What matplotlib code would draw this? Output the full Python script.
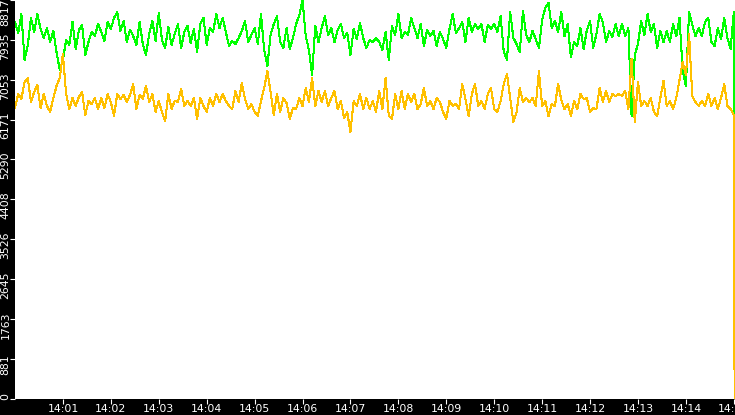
import matplotlib
matplotlib.use("Agg")
import matplotlib.pyplot as plt
import matplotlib.transforms as mtransforms

# seconds after 14:00:00, one sample every 4 s, last one is the drop at the end
times = list(range(0, 901, 4)) + [901]

green = [
    8330, 8087, 8507, 7489, 7821, 8419, 8109, 8507, 8175, 7976,
    8197, 7888, 8131, 7666, 7268, 7489, 7932, 7821, 8330, 7733,
    8153, 8264, 7600, 7888, 8109, 8020, 8286, 8109, 7910, 8330,
    8175, 8419, 8552, 8131, 8352, 7888, 8153, 8020, 7821, 8330,
    7843, 7600, 8065, 8352, 7910, 8529, 7932, 7755, 8220, 7821,
    8065, 8286, 7755, 8109, 8242, 7866, 8175, 7666, 8286, 8419,
    7821, 8197, 8109, 8507, 8197, 8419, 8109, 7799, 7910, 7843,
    7976, 8131, 8352, 7888, 8043, 8197, 7843, 8507, 7711, 7357,
    8043, 8286, 8463, 7888, 7755, 8197, 7733, 7976, 8286, 8485,
    8817, 8020, 7711, 7158, 8242, 7888, 8197, 8463, 8043, 8197,
    7888, 8153, 8286, 7976, 8087, 7600, 8175, 7954, 8308, 7976,
    7755, 7932, 7888, 7976, 7888, 7711, 8109, 7489, 8242, 8043,
    8507, 7976, 8109, 8043, 8419, 8197, 7976, 8286, 7799, 8153,
    8020, 8131, 7799, 8109, 7954, 7755, 8175, 8507, 8087, 8197,
    8330, 7888, 8419, 8109, 8286, 8175, 8286, 7888, 8264, 8175,
    8286, 8109, 8463, 7666, 7489, 8552, 7976, 7843, 7666, 8574,
    8043, 7888, 8131, 7954, 7755, 8374, 8640, 8751, 8197, 8352,
    8109, 8552, 8020, 8286, 7556, 7888, 7799, 8197, 7733, 8153,
    8352, 7755, 8065, 8507, 8330, 7888, 8131, 7998, 8286, 8020,
    8286, 8020, 8197, 6250, 7600, 7843, 8352, 8043, 8507, 8109,
    8286, 7755, 8131, 7888, 8131, 7888, 8286, 8020, 8419, 7268,
    6914, 8552, 8264, 8020, 8197, 8020, 8330, 8419, 7888, 7799,
    8197, 7954, 8419, 7976, 7733, 8552,
    3400,
]

orange = [
    6427, 6737, 6626, 7003, 7091, 6560, 6781, 6936, 6427, 6737,
    6472, 6339, 6649, 6914, 7091, 7622, 6737, 6405, 6649, 6472,
    6671, 6781, 6273, 6582, 6516, 6649, 6405, 6649, 6427, 6737,
    6560, 6250, 6737, 6626, 6715, 6560, 6715, 6958, 6405, 6715,
    6626, 6914, 6560, 6737, 6339, 6582, 6339, 6140, 6737, 6405,
    6582, 6560, 6848, 6472, 6582, 6472, 6649, 6184, 6649, 6472,
    6339, 6649, 6472, 6737, 6560, 6737, 6582, 6472, 6405, 6804,
    6560, 6981, 6626, 6405, 6516, 6339, 6250, 6582, 6870, 7246,
    6781, 6273, 6737, 6339, 6649, 6538, 6184, 6427, 6405, 6649,
    6472, 6870, 6560, 7091, 6472, 6804, 6560, 6804, 6472, 6649,
    6804, 6405, 6582, 6206, 6339, 5896, 6582, 6472, 6737, 6405,
    6649, 6405, 6582, 6339, 6804, 6405, 7091, 6250, 6184, 6737,
    6405, 6804, 6405, 6737, 6560, 6737, 6405, 6516, 6870, 6472,
    6582, 6405, 6649, 6560, 6339, 6184, 6582, 6472, 6516, 6405,
    6958, 6626, 6250, 6737, 6958, 6472, 6582, 6405, 6737, 6870,
    6405, 6339, 6582, 6958, 7180, 6649, 6118, 6339, 6870, 6560,
    6649, 6560, 6649, 6472, 7246, 6472, 6582, 6250, 6516, 6472,
    6958, 6604, 6405, 6516, 6250, 6582, 6405, 6737, 6626, 6649,
    6339, 6427, 6405, 6870, 6560, 6804, 6560, 6737, 6693, 6737,
    6693, 6804, 6405, 7512, 6118, 7003, 6472, 6582, 6472, 6649,
    6339, 6250, 6649, 7025, 6472, 6582, 6405, 6649, 7047, 7445,
    7158, 8065, 6693, 6560, 6472, 6582, 6472, 6737, 6472, 6649,
    6405, 6649, 6958, 6472, 6405, 6273,
    0,
]

y_max = 8817
y_steps = 10
x_tick_secs = [60 * m for m in range(1, 16)]
x_tick_labels = ["14:%02d" % m for m in range(1, 16)]

W, H = 735, 415
fig = plt.figure(figsize=(W / 100, H / 100), dpi=100, facecolor="black")
ax = fig.add_axes([15 / W, 16.5 / H, 720 / W, 398.5 / H])
ax.set_facecolor("white")
for s in ax.spines.values():
    s.set_visible(False)

ax.plot(times, green, color="#00ff00", lw=0.75, antialiased=False, zorder=2)
ax.plot(times, orange, color="#ffc000", lw=0.75, antialiased=False, zorder=3)

ax.set_xlim(0, 901.5)
ax.set_ylim(0, y_max)

ax.set_xticks(x_tick_secs)
ax.set_xticklabels(x_tick_labels)
ax.tick_params(axis="x", colors="white", direction="out", length=3.6,
               width=0.8, pad=0.3, labelsize=7.8)

y_ticks = [y_max * k / y_steps for k in range(y_steps + 1)]
ax.set_yticks(y_ticks)
ax.set_yticklabels([])
ax.tick_params(axis="y", colors="white", direction="out", length=3.6,
               width=0.8)

# rotated value labels, shifted a bit below their tick like the original
for k, v in enumerate(y_ticks):
    if k == 0:
        dy = 2.5
    elif k == y_steps:
        dy = -12.5
    else:
        dy = -6
    tr = mtransforms.blended_transform_factory(fig.transFigure, ax.transData)
    tr = tr + mtransforms.ScaledTranslation(0, dy / 100, fig.dpi_scale_trans)
    ax.text(5.5 / W, v, str(int(v)), transform=tr, rotation=90,
            ha="center", va="center", color="white", fontsize=7.8,
            clip_on=False)

fig.savefig("out.png", dpi=100, facecolor="black")
